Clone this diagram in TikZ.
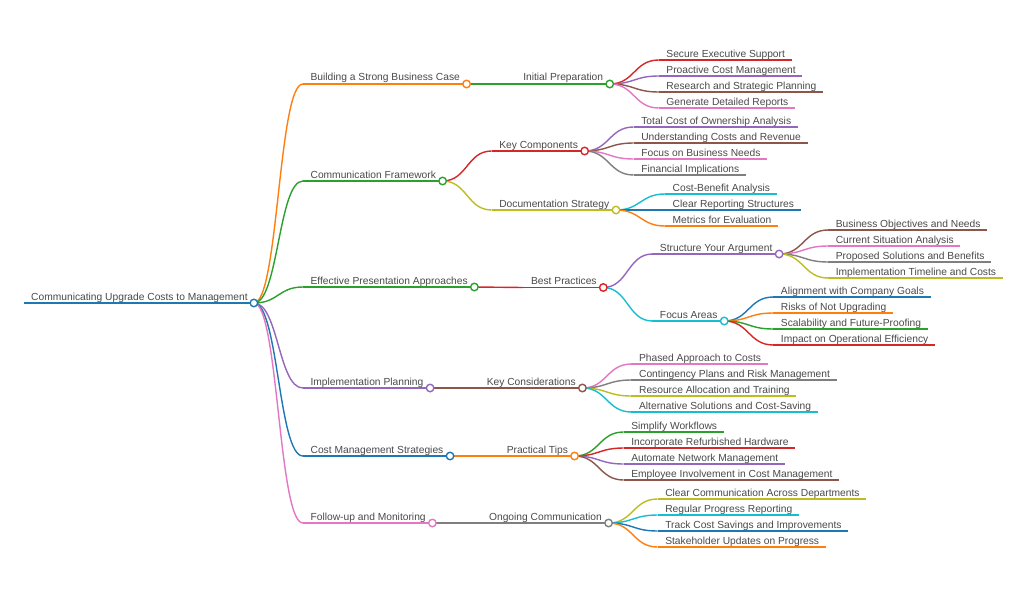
\documentclass[tikz,border=0pt]{standalone}
\usepackage{fontspec}
\setmainfont{Liberation Sans}
\usetikzlibrary{calc}
\definecolor{mmblue}{HTML}{1F77B4}
\definecolor{mmorange}{HTML}{FF7F0E}
\definecolor{mmgreen}{HTML}{2CA02C}
\definecolor{mmred}{HTML}{D62728}
\definecolor{mmpurple}{HTML}{9467BD}
\definecolor{mmbrown}{HTML}{8C564B}
\definecolor{mmpink}{HTML}{E377C2}
\definecolor{mmgray}{HTML}{7F7F7F}
\definecolor{mmolive}{HTML}{BCBD22}
\definecolor{mmcyan}{HTML}{17BECF}
\definecolor{txtgray}{HTML}{4A4A4A}
\tikzset{lbl/.style={anchor=base west, inner sep=0pt, font=\fontsize{10.25}{12}\selectfont, text=txtgray}, edge/.style={line width=1.4pt}, knob/.style={circle, draw, fill=white, line width=1.4pt, minimum size=7.5pt, inner sep=0pt}}
% topic: name, parent, y, colour, text
\newcommand{\mmtopic}[5]{%
  \path let \p1=(#2-e), \p2=(0,#3) in coordinate (#1-s) at (\x1+49pt,\y2);
  \node[lbl] (#1) at ([shift={(7.5,-3)}]#1-s) {#5};
  \path let \p1=(#1.east), \p2=(#1-s) in coordinate (#1-e) at (\x1+6.5pt,\y2);
  \draw[edge,#4] (#1-s) -- (#1-e);
  \draw[edge,#4] let \p1=(#2-e), \p2=(#1-s) in (\p1) .. controls ({(\x1+\x2)/2},\y1) and ({(\x1+\x2)/2},\y2) .. (\p2);}
\newcommand{\mmknob}[2]{\node[knob,draw=#2] (#1-k) at (#1-e) {};}

\begin{document}
\begin{tikzpicture}[x=1pt,y=-1pt]
\useasboundingbox (0,0) rectangle (1024,594);
\fill[white] (0,0) rectangle (1024,594);
% root
\coordinate (comm-s) at (24,303);
\node[lbl] (comm) at ([shift={(7,-3)}]comm-s) {Communicating Upgrade Costs to Management};
\path let \p1=(comm.east), \p2=(comm-s) in coordinate (comm-e) at (\x1+6pt,\y2);
\draw[edge,mmblue] (comm-s) -- (comm-e);
% first level
\mmtopic{bcase}{comm}{84}{mmorange}{Building a Strong Business Case}
\mmtopic{cframe}{comm}{181}{mmgreen}{Communication Framework}
\mmtopic{epres}{comm}{287}{mmgreen}{Effective Presentation Approaches}
\mmtopic{iplan}{comm}{388}{mmpurple}{Implementation Planning}
\mmtopic{cmgmt}{comm}{456}{mmblue}{Cost Management Strategies}
\mmtopic{fmon}{comm}{523}{mmpink}{Follow-up and Monitoring}
% second level
\mmtopic{iprep}{bcase}{84}{mmgreen}{Initial Preparation}
\mmtopic{kcomp}{cframe}{151}{mmred}{Key Components}
\mmtopic{dstrat}{cframe}{210}{mmolive}{Documentation Strategy}
\mmtopic{bprac}{epres}{287.5}{mmred}{Best Practices}
\mmtopic{kcons}{iplan}{388}{mmbrown}{Key Considerations}
\mmtopic{ptips}{cmgmt}{456}{mmorange}{Practical Tips}
\mmtopic{ocomm}{fmon}{523}{mmgray}{Ongoing Communication}
% third level
\mmtopic{sexec}{iprep}{60}{mmred}{Secure Executive Support}
\mmtopic{pcost}{iprep}{76}{mmpurple}{Proactive Cost Management}
\mmtopic{rplan}{iprep}{92}{mmbrown}{Research and Strategic Planning}
\mmtopic{greps}{iprep}{108}{mmpink}{Generate Detailed Reports}
\mmtopic{tco}{kcomp}{127}{mmpurple}{Total Cost of Ownership Analysis}
\mmtopic{ucost}{kcomp}{143}{mmbrown}{Understanding Costs and Revenue}
\mmtopic{fneeds}{kcomp}{159}{mmpink}{Focus on Business Needs}
\mmtopic{fimpl}{kcomp}{175}{mmgray}{Financial Implications}
\mmtopic{cba}{dstrat}{194}{mmcyan}{Cost-Benefit Analysis}
\mmtopic{crep}{dstrat}{210}{mmblue}{Clear Reporting Structures}
\mmtopic{meval}{dstrat}{226}{mmorange}{Metrics for Evaluation}
\mmtopic{sarg}{bprac}{254}{mmpurple}{Structure Your Argument}
\mmtopic{farea}{bprac}{321}{mmcyan}{Focus Areas}
\mmtopic{phased}{kcons}{364}{mmpink}{Phased Approach to Costs}
\mmtopic{cplans}{kcons}{380}{mmgray}{Contingency Plans and Risk Management}
\mmtopic{ralloc}{kcons}{396}{mmolive}{Resource Allocation and Training}
\mmtopic{altsol}{kcons}{412}{mmcyan}{Alternative Solutions and Cost-Saving}
\mmtopic{simpl}{ptips}{432}{mmgreen}{Simplify Workflows}
\mmtopic{refurb}{ptips}{448}{mmred}{Incorporate Refurbished Hardware}
\mmtopic{autonet}{ptips}{464}{mmpurple}{Automate Network Management}
\mmtopic{emplinv}{ptips}{480}{mmbrown}{Employee Involvement in Cost Management}
\mmtopic{ccomm}{ocomm}{499}{mmolive}{Clear Communication Across Departments}
\mmtopic{rprog}{ocomm}{515}{mmcyan}{Regular Progress Reporting}
\mmtopic{tsave}{ocomm}{531}{mmblue}{Track Cost Savings and Improvements}
\mmtopic{supd}{ocomm}{547}{mmorange}{Stakeholder Updates on Progress}
% fourth level
\mmtopic{bobj}{sarg}{230}{mmbrown}{Business Objectives and Needs}
\mmtopic{csit}{sarg}{246}{mmpink}{Current Situation Analysis}
\mmtopic{psol}{sarg}{262}{mmgray}{Proposed Solutions and Benefits}
\mmtopic{itime}{sarg}{278}{mmolive}{Implementation Timeline and Costs}
\mmtopic{align}{farea}{297}{mmblue}{Alignment with Company Goals}
\mmtopic{risks}{farea}{313}{mmorange}{Risks of Not Upgrading}
\mmtopic{scal}{farea}{329}{mmgreen}{Scalability and Future-Proofing}
\mmtopic{impact}{farea}{345}{mmred}{Impact on Operational Efficiency}
% knobs on top
\mmknob{comm}{mmblue} \mmknob{bcase}{mmorange} \mmknob{cframe}{mmgreen} \mmknob{epres}{mmgreen}
\mmknob{iplan}{mmpurple} \mmknob{cmgmt}{mmblue} \mmknob{fmon}{mmpink}
\mmknob{iprep}{mmgreen} \mmknob{kcomp}{mmred} \mmknob{dstrat}{mmolive} \mmknob{bprac}{mmred}
\mmknob{kcons}{mmbrown} \mmknob{ptips}{mmorange} \mmknob{ocomm}{mmgray}
\mmknob{sarg}{mmpurple} \mmknob{farea}{mmcyan}
\end{tikzpicture}
\end{document}
